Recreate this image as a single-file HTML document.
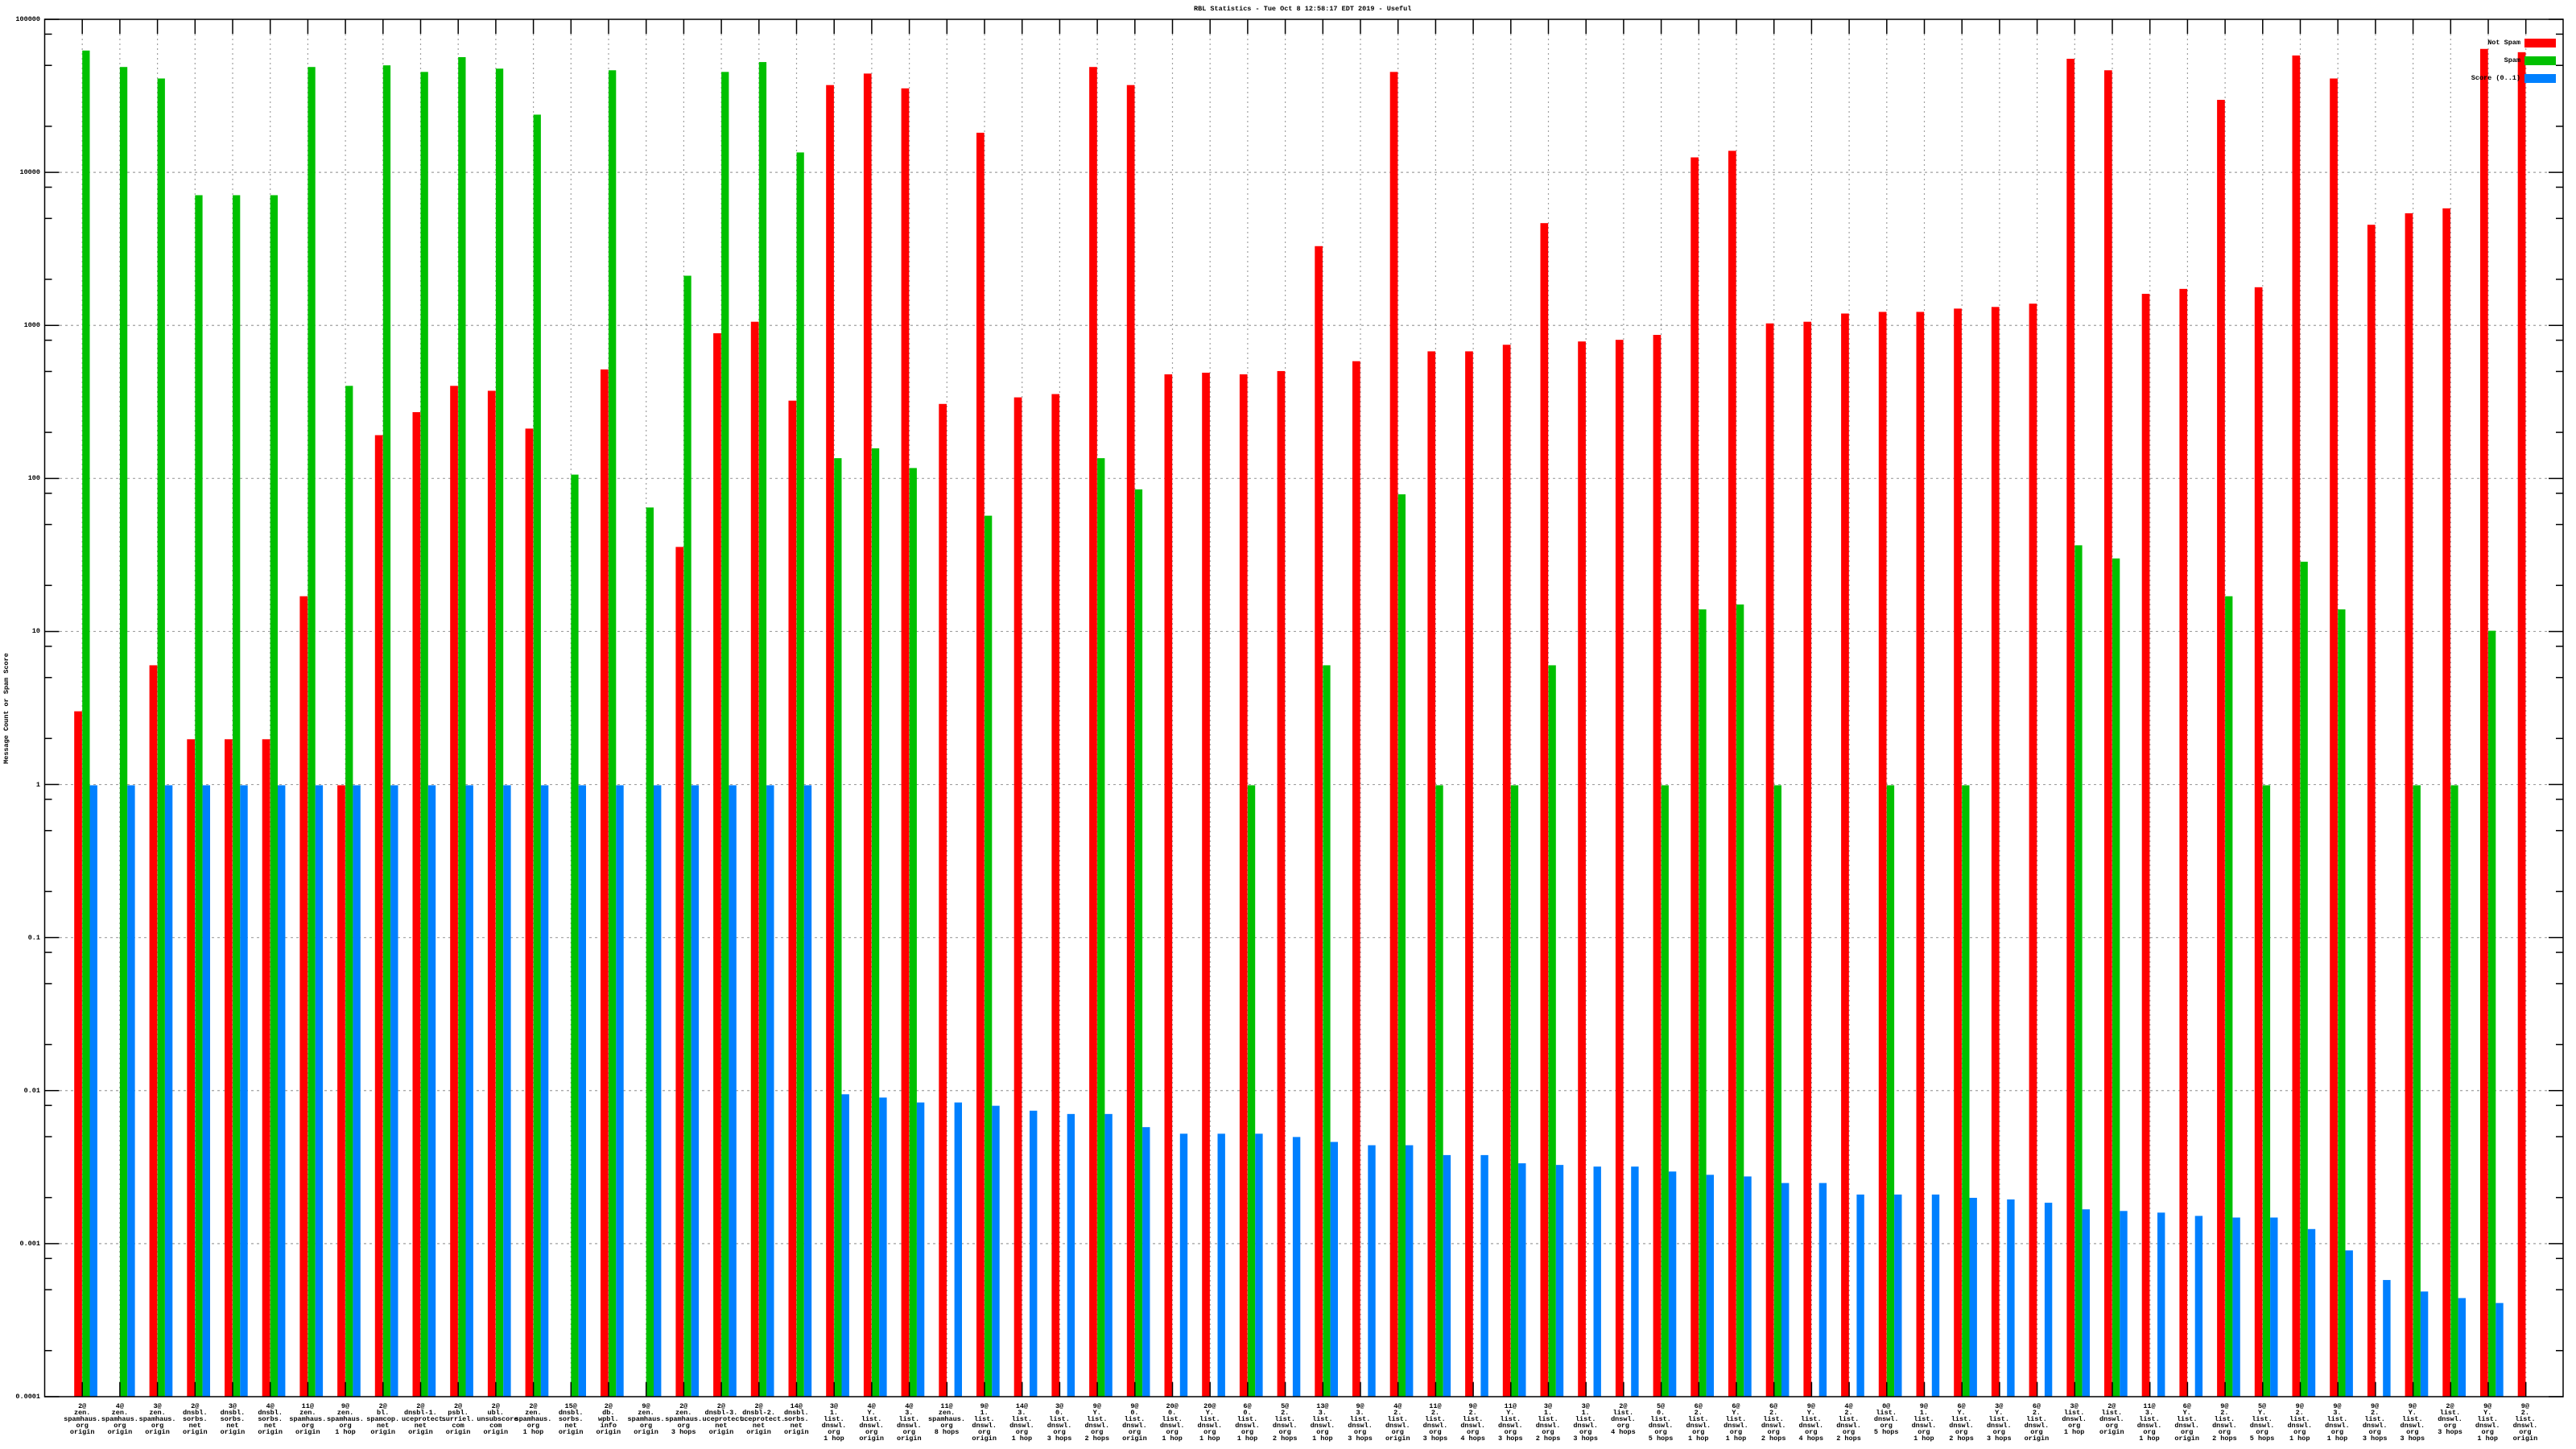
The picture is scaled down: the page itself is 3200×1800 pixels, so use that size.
<!DOCTYPE html>
<html><head><meta charset="utf-8"><style>
html,body{margin:0;padding:0;background:#fff;}
body{width:3200px;height:1800px;position:relative;overflow:hidden;font-family:"Liberation Mono","DejaVu Sans Mono",monospace;color:#000;font-weight:bold;}
svg{position:absolute;left:0;top:0;}
.xl{position:absolute;left:78.85px;top:1743px;display:flex;}
.xl div{width:46.7px;text-align:center;font-size:8.5px;line-height:8px;white-space:nowrap;}
.yl{position:absolute;right:3150px;font-size:8.5px;line-height:8px;text-align:right;white-space:nowrap;}
.t{position:absolute;font-size:8.5px;line-height:8px;white-space:nowrap;}
</style></head><body>
<svg id="s" width="3200" height="1800" xmlns="http://www.w3.org/2000/svg"></svg>
<div class="t" style="left:1483px;top:7px;">RBL Statistics - Tue Oct  8 12:58:17 EDT 2019 - Useful</div>
<div class="t" style="left:2px;top:880px;transform:translate(-50%,-50%) rotate(-90deg);transform-origin:center;margin-left:6px;">Message Count or Spam Score</div>
<div class="t" style="right:69px;top:49px;text-align:right;">Not Spam</div>
<div class="t" style="right:69px;top:71px;text-align:right;">Spam</div>
<div class="t" style="right:69px;top:93px;text-align:right;">Score (0..1)</div>
<div class="yl" style="top:20px;">100000</div>
<div class="yl" style="top:210px;">10000</div>
<div class="yl" style="top:400px;">1000</div>
<div class="yl" style="top:590px;">100</div>
<div class="yl" style="top:780px;">10</div>
<div class="yl" style="top:971px;">1</div>
<div class="yl" style="top:1161px;">0.1</div>
<div class="yl" style="top:1351px;">0.01</div>
<div class="yl" style="top:1541px;">0.001</div>
<div class="yl" style="top:1731px;">0.0001</div>
<div class="xl">
<div>2@<br>zen.<br>spamhaus.<br>org<br>origin</div>
<div>4@<br>zen.<br>spamhaus.<br>org<br>origin</div>
<div>3@<br>zen.<br>spamhaus.<br>org<br>origin</div>
<div>2@<br>dnsbl.<br>sorbs.<br>net<br>origin</div>
<div>3@<br>dnsbl.<br>sorbs.<br>net<br>origin</div>
<div>4@<br>dnsbl.<br>sorbs.<br>net<br>origin</div>
<div>11@<br>zen.<br>spamhaus.<br>org<br>origin</div>
<div>9@<br>zen.<br>spamhaus.<br>org<br>1 hop</div>
<div>2@<br>bl.<br>spamcop.<br>net<br>origin</div>
<div>2@<br>dnsbl-1.<br>uceprotect.<br>net<br>origin</div>
<div>2@<br>psbl.<br>surriel.<br>com<br>origin</div>
<div>2@<br>ubl.<br>unsubscore.<br>com<br>origin</div>
<div>2@<br>zen.<br>spamhaus.<br>org<br>1 hop</div>
<div>15@<br>dnsbl.<br>sorbs.<br>net<br>origin</div>
<div>2@<br>db.<br>wpbl.<br>info<br>origin</div>
<div>9@<br>zen.<br>spamhaus.<br>org<br>origin</div>
<div>2@<br>zen.<br>spamhaus.<br>org<br>3 hops</div>
<div>2@<br>dnsbl-3.<br>uceprotect.<br>net<br>origin</div>
<div>2@<br>dnsbl-2.<br>uceprotect.<br>net<br>origin</div>
<div>14@<br>dnsbl.<br>sorbs.<br>net<br>origin</div>
<div>3@<br>1.<br>list.<br>dnswl.<br>org<br>1 hop</div>
<div>4@<br>Y.<br>list.<br>dnswl.<br>org<br>origin</div>
<div>4@<br>3.<br>list.<br>dnswl.<br>org<br>origin</div>
<div>11@<br>zen.<br>spamhaus.<br>org<br>8 hops</div>
<div>9@<br>1.<br>list.<br>dnswl.<br>org<br>origin</div>
<div>14@<br>3.<br>list.<br>dnswl.<br>org<br>1 hop</div>
<div>3@<br>0.<br>list.<br>dnswl.<br>org<br>3 hops</div>
<div>9@<br>Y.<br>list.<br>dnswl.<br>org<br>2 hops</div>
<div>9@<br>0.<br>list.<br>dnswl.<br>org<br>origin</div>
<div>20@<br>0.<br>list.<br>dnswl.<br>org<br>1 hop</div>
<div>20@<br>Y.<br>list.<br>dnswl.<br>org<br>1 hop</div>
<div>6@<br>0.<br>list.<br>dnswl.<br>org<br>1 hop</div>
<div>5@<br>2.<br>list.<br>dnswl.<br>org<br>2 hops</div>
<div>13@<br>3.<br>list.<br>dnswl.<br>org<br>1 hop</div>
<div>9@<br>3.<br>list.<br>dnswl.<br>org<br>3 hops</div>
<div>4@<br>2.<br>list.<br>dnswl.<br>org<br>origin</div>
<div>11@<br>2.<br>list.<br>dnswl.<br>org<br>3 hops</div>
<div>9@<br>2.<br>list.<br>dnswl.<br>org<br>4 hops</div>
<div>11@<br>Y.<br>list.<br>dnswl.<br>org<br>3 hops</div>
<div>3@<br>1.<br>list.<br>dnswl.<br>org<br>2 hops</div>
<div>3@<br>1.<br>list.<br>dnswl.<br>org<br>3 hops</div>
<div>2@<br>list.<br>dnswl.<br>org<br>4 hops</div>
<div>5@<br>0.<br>list.<br>dnswl.<br>org<br>5 hops</div>
<div>6@<br>2.<br>list.<br>dnswl.<br>org<br>1 hop</div>
<div>6@<br>Y.<br>list.<br>dnswl.<br>org<br>1 hop</div>
<div>6@<br>2.<br>list.<br>dnswl.<br>org<br>2 hops</div>
<div>9@<br>Y.<br>list.<br>dnswl.<br>org<br>4 hops</div>
<div>4@<br>2.<br>list.<br>dnswl.<br>org<br>2 hops</div>
<div>0@<br>list.<br>dnswl.<br>org<br>5 hops</div>
<div>9@<br>1.<br>list.<br>dnswl.<br>org<br>1 hop</div>
<div>6@<br>Y.<br>list.<br>dnswl.<br>org<br>2 hops</div>
<div>3@<br>Y.<br>list.<br>dnswl.<br>org<br>3 hops</div>
<div>6@<br>2.<br>list.<br>dnswl.<br>org<br>origin</div>
<div>3@<br>list.<br>dnswl.<br>org<br>1 hop</div>
<div>2@<br>list.<br>dnswl.<br>org<br>origin</div>
<div>11@<br>3.<br>list.<br>dnswl.<br>org<br>1 hop</div>
<div>6@<br>Y.<br>list.<br>dnswl.<br>org<br>origin</div>
<div>9@<br>2.<br>list.<br>dnswl.<br>org<br>2 hops</div>
<div>5@<br>Y.<br>list.<br>dnswl.<br>org<br>5 hops</div>
<div>9@<br>2.<br>list.<br>dnswl.<br>org<br>1 hop</div>
<div>9@<br>3.<br>list.<br>dnswl.<br>org<br>1 hop</div>
<div>9@<br>2.<br>list.<br>dnswl.<br>org<br>3 hops</div>
<div>9@<br>Y.<br>list.<br>dnswl.<br>org<br>3 hops</div>
<div>2@<br>list.<br>dnswl.<br>org<br>3 hops</div>
<div>9@<br>Y.<br>list.<br>dnswl.<br>org<br>1 hop</div>
<div>9@<br>2.<br>list.<br>dnswl.<br>org<br>origin</div>
</div>
<script>
var D=[[433,31,478],[null,41,478],[405,48,478],[450,119,478],[450,119,478],[450,119,478],[363,41,478],[478,235,478],[265,40,478],[251,44,478],
[235,35,478],[238,42,478],[261,70,478],[null,289,478],[225,43,478],[null,309,478],[333,168,478],[203,44,478],[196,38,478],[244,93,478],
[52,279,666],[45,273,668],[54,285,671],[246,null,671],[81,314,673],[242,null,676],[240,null,678],[41,279,678],[52,298,686],[228,null,690],
[227,null,690],[228,478,690],[226,null,692],[150,405,695],[220,null,697],[44,301,697],[214,478,703],[214,null,703],[210,478,708],[136,405,709],
[208,null,710],[207,null,710],[204,478,713],[96,371,715],[92,368,716],[197,478,720],[196,null,720],[191,null,727],[190,478,727],[190,null,727],
[188,478,729],[187,null,730],[185,null,732],[36,332,736],[43,340,737],[179,null,738],[176,null,740],[61,363,741],[175,478,741],[34,342,748],
[48,371,761],[137,null,779],[130,478,786],[127,478,790],[30,384,793],[32,null,null]];
var L=55.5,T=24,R=3184,B=1735,dec=(B-T)/9,u=46.7;
function Y(p){return T+(p-12)*2.0418;}
var h='';
for(var k=1;k<9;k++){var y=T+k*dec;h+='<line x1="74" y1="'+y+'" x2="'+(R-18)+'" y2="'+y+'" stroke="#a0a0a0" stroke-width="1.2" stroke-dasharray="3,4"/>';}
for(var i=0;i<66;i++){var x=102.2+i*u;h+='<line x1="'+x+'" y1="'+(T+18)+'" x2="'+x+'" y2="'+(B-18)+'" stroke="#a0a0a0" stroke-width="1.2" stroke-dasharray="2,4"/>';}
var C=['#ff0000','#00c000','#0080ff'],O=[-10,0,9.3],W=[9.7,9.3,9.4];
for(var i=0;i<66;i++){var x=102.2+i*u;for(var s=0;s<3;s++){var p=D[i][s];if(p==null)continue;var y=Y(p);h+='<rect x="'+(x+O[s])+'" y="'+y+'" width="'+W[s]+'" height="'+(B-y)+'" fill="'+C[s]+'"/>';}}
for(var k=0;k<=9;k++){var y=T+k*dec;h+='<line x1="'+L+'" y1="'+y+'" x2="'+(L+18)+'" y2="'+y+'" stroke="#000" stroke-width="1.5"/><line x1="'+R+'" y1="'+y+'" x2="'+(R-18)+'" y2="'+y+'" stroke="#000" stroke-width="1.5"/>';
 if(k<9){[2,5,8].forEach(function(m){var yy=T+(k+1-Math.log10(m))*dec;h+='<line x1="'+L+'" y1="'+yy+'" x2="'+(L+9)+'" y2="'+yy+'" stroke="#000" stroke-width="1.5"/><line x1="'+R+'" y1="'+yy+'" x2="'+(R-9)+'" y2="'+yy+'" stroke="#000" stroke-width="1.5"/>';});}}
for(var i=0;i<66;i++){var x=102.2+i*u;h+='<line x1="'+x+'" y1="'+T+'" x2="'+x+'" y2="'+(T+18)+'" stroke="#000" stroke-width="1.5"/><line x1="'+x+'" y1="'+B+'" x2="'+x+'" y2="'+(B-18)+'" stroke="#000" stroke-width="1.5"/>';}
h+='<rect x="'+L+'" y="'+T+'" width="'+(R-L)+'" height="'+(B-T)+'" fill="none" stroke="#000" stroke-width="1.5"/>';
h+='<rect x="3136" y="48" width="39" height="11" fill="#ff0000"/><rect x="3136" y="70" width="39" height="11" fill="#00c000"/><rect x="3136" y="92" width="39" height="11" fill="#0080ff"/>';
document.getElementById('s').innerHTML=h;
</script>
</body></html>
